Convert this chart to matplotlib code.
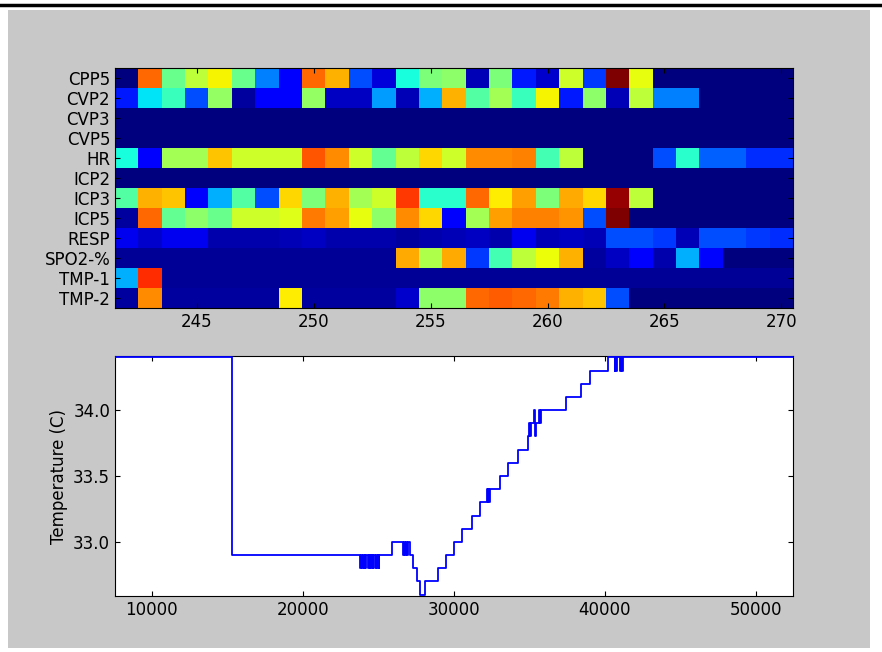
# Recreación de un mapa de calor de señales y la curva de temperatura
import matplotlib
matplotlib.use('Agg')
import matplotlib.pyplot as plt
from matplotlib.patches import Rectangle
from matplotlib.lines import Line2D

# Datos del mapa de calor (filas = señales, columnas = 242..270)
senales = ['CPP5', 'CVP2', 'CVP3', 'CVP5', 'HR', 'ICP2', 'ICP3', 'ICP5',
           'RESP', 'SPO2-%', 'TMP-1', 'TMP-2']
columnas = list(range(242, 271))

cpp5 = [0.00, 0.80, 0.48, 0.58, 0.65, 0.48, 0.25, 0.12, 0.80, 0.72, 0.20, 0.08,
        0.38, 0.50, 0.52, 0.05, 0.50, 0.15, 0.07, 0.60, 0.18, 1.00, 0.63,
        0.0, 0.0, 0.0, 0.0, 0.0, 0.0]
cvp2 = [0.15, 0.35, 0.42, 0.20, 0.53, 0.03, 0.12, 0.12, 0.53, 0.06, 0.06, 0.28,
        0.05, 0.30, 0.72, 0.45, 0.55, 0.42, 0.65, 0.15, 0.52, 0.05, 0.58,
        0.25, 0.25, 0.0, 0.0, 0.0, 0.0]
cvp3 = [0.0] * 29
cvp5 = [0.0] * 29
hr = [0.38, 0.12, 0.55, 0.55, 0.70, 0.60, 0.60, 0.60, 0.82, 0.76, 0.60, 0.47,
      0.58, 0.68, 0.60, 0.76, 0.76, 0.77, 0.43, 0.58, 0.0, 0.0, 0.0,
      0.20, 0.40, 0.22, 0.22, 0.17, 0.17]
icp2 = [0.0] * 29
icp3 = [0.45, 0.72, 0.70, 0.12, 0.30, 0.45, 0.20, 0.68, 0.50, 0.72, 0.55, 0.60,
        0.85, 0.40, 0.40, 0.80, 0.66, 0.74, 0.50, 0.73, 0.68, 0.98, 0.58,
        0.0, 0.0, 0.0, 0.0, 0.0, 0.0]
icp5 = [0.03, 0.80, 0.47, 0.52, 0.48, 0.60, 0.60, 0.62, 0.78, 0.74, 0.63, 0.52,
        0.76, 0.68, 0.12, 0.55, 0.74, 0.77, 0.77, 0.75, 0.20, 1.00, 0.0,
        0.0, 0.0, 0.0, 0.0, 0.0, 0.0]
resp = [0.10, 0.07, 0.10, 0.10, 0.04, 0.04, 0.04, 0.05, 0.06, 0.04, 0.04, 0.04,
        0.03, 0.04, 0.05, 0.06, 0.04, 0.10, 0.05, 0.06, 0.05, 0.20, 0.20,
        0.18, 0.05, 0.20, 0.20, 0.18, 0.17]
spo2 = [0.02, 0.02, 0.02, 0.02, 0.02, 0.02, 0.02, 0.02, 0.02, 0.02, 0.02, 0.02,
        0.73, 0.56, 0.73, 0.18, 0.43, 0.58, 0.64, 0.72, 0.03, 0.06, 0.12,
        0.04, 0.30, 0.13, 0.0, 0.0, 0.0]
tmp1 = [0.30, 0.86] + [0.02] * 27
tmp2 = [0.03, 0.76, 0.03, 0.03, 0.03, 0.03, 0.03, 0.66, 0.03, 0.03, 0.03, 0.03,
        0.07, 0.52, 0.52, 0.80, 0.81, 0.80, 0.78, 0.72, 0.70, 0.20, 0.0,
        0.0, 0.0, 0.0, 0.0, 0.0, 0.0]
mapa = [cpp5, cvp2, cvp3, cvp5, hr, icp2, icp3, icp5, resp, spo2, tmp1, tmp2]

# Curva de temperatura (escalones: tiempo de cambio, valor nuevo)
tiempo = [7570, 15300,
          23790, 23850, 23910, 23970, 24030, 24090, 24130, 24180,
          24300, 24360, 24420, 24480, 24540, 24600, 24640, 24670,
          24780, 24840, 24900, 24960, 25020, 25070,
          25900,
          26650, 26710, 26770, 26830, 26890, 26950,
          27100, 27300, 27550, 27760, 28090, 28970, 29470, 30010, 30560,
          31180, 31730,
          32170, 32230, 32290, 32350, 32390,
          33050, 33600, 34260, 34920,
          34990, 35060, 35130, 35320, 35370, 35410, 35630, 35690, 35760,
          37450, 38440, 39040, 40200,
          40660, 40700, 40740, 40780,
          40990, 41050, 41110, 41170, 41210,
          52450]
temperatura = [34.4, 32.9,
               32.8, 32.9, 32.8, 32.9, 32.8, 32.9, 32.8, 32.9,
               32.8, 32.9, 32.8, 32.9, 32.8, 32.9, 32.8, 32.9,
               32.8, 32.9, 32.8, 32.9, 32.8, 32.9,
               33.0,
               32.9, 33.0, 32.9, 33.0, 32.9, 33.0,
               32.9, 32.8, 32.7, 32.6, 32.7, 32.8, 32.9, 33.0, 33.1,
               33.2, 33.3,
               33.4, 33.3, 33.4, 33.3, 33.4,
               33.5, 33.6, 33.7, 33.8,
               33.9, 33.8, 33.9, 34.0, 33.8, 33.9, 34.0, 33.9, 34.0,
               34.1, 34.2, 34.3, 34.4,
               34.3, 34.4, 34.3, 34.4,
               34.3, 34.4, 34.3, 34.4, 34.4,
               34.4]

# Figura con fondo blanco, marco gris y línea negra arriba
fig = plt.figure(figsize=(8.82, 6.52), dpi=100, facecolor='white')
fig.patches.append(Rectangle((8 / 882, 4 / 652), 862 / 882, 638 / 652,
                             transform=fig.transFigure, facecolor='#c8c8c8',
                             edgecolor='none', zorder=-1))
fig.lines.append(Line2D([0, 1], [1 - 5 / 652, 1 - 5 / 652], transform=fig.transFigure,
                        color='black', linewidth=2.5))

plt.rcParams['font.size'] = 12

# Mapa de calor
ax1 = fig.add_axes([115 / 882, 1 - 308 / 652, 678 / 882, 240 / 652])
ax1.imshow(mapa, cmap='jet', vmin=0, vmax=1, aspect='auto', interpolation='nearest',
           extent=[columnas[0] - 0.5, columnas[-1] + 0.5, len(senales) - 0.5, -0.5])
ax1.set_yticks(range(len(senales)))
ax1.set_yticklabels(senales)
ax1.set_xticks([245, 250, 255, 260, 265, 270])
ax1.tick_params(direction='in', top=True, right=True, labelsize=12)

# Curva de temperatura (por encima del marco para que se vea arriba)
ax2 = fig.add_axes([115 / 882, 1 - 596 / 652, 678 / 882, 240 / 652])
ax2.plot(tiempo, temperatura, color='#0000ff', linewidth=1.3, drawstyle='steps-post',
         zorder=3)
ax2.set_xlim(7570, 52450)
ax2.set_ylim(32.59, 34.41)
ax2.set_xticks([10000, 20000, 30000, 40000, 50000])
ax2.set_yticks([33.0, 33.5, 34.0])
ax2.set_yticklabels(['33.0', '33.5', '34.0'])
ax2.set_ylabel('Temperature (C)', fontsize=12)
ax2.tick_params(direction='in', top=True, right=True, labelsize=12)

fig.savefig('out.png', dpi=100, facecolor=fig.get_facecolor())
